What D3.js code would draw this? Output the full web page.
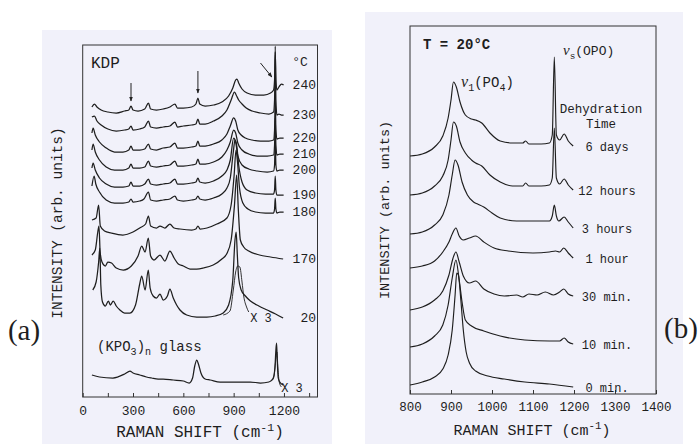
<!DOCTYPE html>
<html>
<head>
<meta charset="utf-8">
<script src="https://cdn.jsdelivr.net/npm/d3@7"></script>
<style>
  body { margin: 0; background: #fff; }
  svg { display: block; }
  text { font-family: "Liberation Mono", "DejaVu Sans Mono", monospace; fill: #1e1e1e; }
</style>
</head>
<body>
<svg width="700" height="444"></svg>
<script>
var svg = d3.select('svg');

// ---- panel (a): KDP spectra, [Raman shift, intensity] ----
var kdpTemps = ['240', '230', '220', '210', '200', '190', '180', '170', '20'];

var kdp240 = [[55,290],[70,293],[85,290],[110,287],[150,285],[200,284],[250,286],[275,287],[288,291],[300,287],[330,286],[370,288],[392,294],[405,288],[440,287],[480,288],[520,290],[550,293],[565,289],[600,289],[650,290],[675,293],[687,299],[698,293],[730,291],[780,292],[830,295],[870,301],[895,309],[912,317],[920,318],[930,314],[950,308],[980,304],[1030,302],[1080,302],[1120,304],[1138,307],[1144,317],[1148,345],[1152,317],[1158,307],[1170,310],[1185,313],[1198,312]];
var kdp230 = [[55,280],[70,281],[85,276],[110,272],[150,268],[200,266],[250,267],[275,268],[288,271],[300,267],[340,268],[370,270],[392,276],[405,270],[440,269],[480,270],[520,271],[550,275],[565,270],[600,271],[650,272],[675,273],[687,278],[698,273],[730,273],[780,276],[830,281],[860,287],[885,297],[905,305],[915,302],[930,297],[950,293],[975,289],[1010,286],[1060,284],[1110,283],[1138,285],[1144,297],[1148,351],[1152,297],[1158,282],[1170,283],[1185,282],[1198,282]];
var kdp220 = [[55,264],[62,269],[75,262],[100,255],[140,249],[190,245],[240,245],[275,247],[288,251],[300,247],[340,247],[370,248],[392,253],[405,248],[440,247],[480,249],[520,250],[550,254],[565,249],[600,249],[650,250],[675,251],[687,256],[698,251],[730,251],[780,253],[830,257],[860,263],[880,271],[900,279],[912,276],[925,267],[945,262],[970,259],[1010,257],[1060,256],[1110,256],[1138,257],[1144,267],[1148,299],[1152,267],[1158,258],[1175,259],[1198,259]];
var kdp210 = [[55,247],[62,253],[75,245],[100,237],[140,230],[190,227],[240,227],[275,229],[288,233],[300,229],[340,229],[370,230],[392,236],[405,231],[440,230],[480,231],[520,232],[550,236],[565,231],[600,231],[650,232],[675,233],[687,238],[698,233],[730,233],[780,235],[830,240],[860,247],[880,255],[900,267],[912,264],[925,254],[950,247],[990,243],[1040,241],[1100,241],[1138,242],[1144,252],[1148,279],[1152,252],[1158,242],[1175,243],[1198,243]];
var kdp200 = [[55,229],[62,234],[75,227],[100,219],[140,213],[190,210],[240,210],[275,211],[288,215],[300,211],[340,211],[370,213],[392,218],[405,213],[440,212],[480,213],[520,214],[550,218],[565,213],[600,213],[650,214],[675,215],[687,219],[698,215],[730,214],[780,216],[830,221],[860,227],[880,237],[900,259],[912,255],[925,241],[950,232],[990,228],[1040,226],[1100,225],[1138,226],[1144,232],[1148,257],[1152,232],[1158,226],[1175,227],[1198,227]];
var kdp190 = [[55,211],[68,221],[78,213],[100,205],[140,197],[190,194],[240,194],[275,195],[288,198],[300,195],[340,196],[365,198],[392,205],[405,197],[440,196],[480,197],[520,198],[550,201],[565,197],[600,196],[650,197],[675,198],[687,201],[698,198],[730,197],[780,199],[830,203],[860,209],[880,219],[898,245],[908,257],[918,252],[930,232],[950,215],[980,207],[1030,204],[1090,203],[1138,203],[1144,207],[1148,221],[1152,207],[1158,202],[1175,202],[1198,202]];
var kdp180 = [[55,177],[80,179],[95,192],[105,171],[130,166],[170,164],[240,162],[300,165],[340,169],[375,173],[392,181],[405,171],[440,169],[461,171],[490,169],[520,173],[545,169],[580,168],[650,167],[675,168],[687,171],[700,168],[741,169],[800,173],[860,179],[885,192],[903,222],[914,247],[922,237],[935,209],[955,194],[985,188],[1030,185],[1090,184],[1138,184],[1144,188],[1148,199],[1152,188],[1158,184],[1175,185],[1198,185]];
var kdp170 = [[55,142],[75,147],[90,165],[97,171],[104,145],[115,135],[135,131],[150,135],[172,134],[200,129],[242,127],[290,131],[330,141],[352,151],[372,145],[391,159],[405,141],[425,137],[461,142],[490,136],[520,146],[545,139],[570,133],[600,131],[640,128],[680,128],[720,129],[778,132],[830,138],[858,143],[885,157],[905,192],[918,222],[928,187],[940,157],[960,150],[990,146],[1054,142],[1120,140],[1195,138]];
var kdp20 = [[60,107],[80,115],[95,135],[102,149],[108,112],[118,95],[135,91],[153,96],[165,92],[182,96],[200,91],[222,87],[250,84],[282,84],[315,92],[340,113],[352,121],[372,107],[391,127],[402,109],[420,101],[440,99],[461,103],[480,97],[505,101],[520,108],[540,99],[560,92],[580,87],[620,82],[680,80],[740,80],[790,81],[838,84],[870,92],[895,117],[908,157],[915,165],[922,142],[930,119],[945,107],[970,101],[1000,96],[1050,91],[1100,87],[1150,83],[1195,79]];
var kdp20x3 = [[838,82],[878,86],[898,107],[912,125],[925,131],[937,130],[950,115],[960,101],[977,90],[990,85]];
var glass = [[55,22],[100,20],[180,19],[250,23],[282,26],[300,24],[340,22],[380,20],[411,19],[450,18],[480,18],[540,17],[600,16],[635,14],[655,19],[668,31],[680,37],[690,33],[705,24],[730,18],[760,17],[820,15],[900,15],[1000,15],[1060,14],[1110,15],[1135,18],[1146,29],[1152,47],[1156,54],[1160,37],[1166,19],[1175,15],[1195,12]];
var glassX3 = [[1120,16],[1140,21],[1150,35],[1158,45],[1164,29],[1172,15],[1185,10]];

var kdpSpectra = [kdp240, kdp230, kdp220, kdp210, kdp200, kdp190, kdp180, kdp170, kdp20];
var ticksA = [0, 150, 300, 450, 600, 750, 900, 1050, 1200, 1350];

// ---- panel (b): dehydration series at 20 C ----
var dehydTimes = ['6 days', '12 hours', '3 hours', '1 hour', '30 min.', '10 min.', '0 min.'];

var d6days = [[800,238],[830,240],[860,247],[880,258],[893,276],[900,294],[906,312],[913,307],[922,292],[935,279],[950,275],[960,274],[975,271],[995,261],[1020,253],[1050,251],[1075,251],[1082,253],[1090,250],[1120,250],[1140,251],[1147,259],[1152,337],[1157,259],[1165,254],[1176,260],[1186,253],[1198,248]];
var d12h = [[800,199],[830,201],[860,208],[880,218],[893,234],[900,254],[906,272],[913,268],[922,252],[935,241],[950,234],[960,231],[975,228],[995,219],[1020,212],[1050,208],[1075,208],[1082,211],[1090,208],[1120,208],[1140,209],[1147,216],[1152,266],[1157,216],[1165,210],[1176,215],[1186,209],[1198,204]];
var d3h = [[800,160],[830,162],[860,169],[880,179],[895,199],[903,219],[910,234],[917,229],[927,212],[940,199],[955,192],[965,190],[980,187],[1000,181],[1020,176],[1060,173],[1100,173],[1140,173],[1147,178],[1152,189],[1157,178],[1163,173],[1176,177],[1186,172],[1198,166]];
var d1h = [[800,126],[830,128],[860,133],[880,142],[895,152],[903,160],[912,166],[920,158],[930,154],[945,156],[960,158],[980,152],[1005,146],[1040,143],[1100,141],[1140,142],[1155,143],[1165,142],[1175,146],[1186,141],[1198,136]];
var d30m = [[800,84],[830,87],[860,94],[880,103],[895,119],[905,136],[912,142],[920,132],[930,118],[945,111],[960,113],[980,105],[1005,100],[1030,98],[1060,99],[1075,97],[1090,100],[1110,99],[1130,102],[1150,99],[1165,102],[1175,105],[1186,100],[1198,98]];
var d10m = [[800,47],[830,50],[860,58],[880,69],[893,89],[903,116],[912,134],[920,114],[928,89],[935,74],[950,68],[980,63],[1020,58],[1080,54],[1140,53],[1165,53],[1176,56],[1186,52],[1198,50]];
var d0m = [[800,9],[830,12],[860,17],[880,25],[893,39],[903,64],[910,99],[914,121],[918,119],[924,94],[930,64],[937,42],[945,31],[960,23],[990,18],[1030,15],[1080,12],[1140,10],[1198,7]];

var dehydSpectra = [d6days, d12h, d3h, d1h, d30m, d10m, d0m];
var ticksB = [800, 900, 1000, 1100, 1200, 1300, 1400];

// ---- backgrounds ----
svg.append('rect').attr('x', 42).attr('y', 30).attr('width', 290).attr('height', 414).attr('fill', '#f1f1fa');
svg.append('rect').attr('x', 365).attr('y', 12).attr('width', 318).attr('height', 432).attr('fill', '#f1f1fa');

// arrow head
svg.append('defs').append('marker')
  .attr('id', 'head').attr('viewBox', '0 0 10 10').attr('refX', 9).attr('refY', 5)
  .attr('markerWidth', 5).attr('markerHeight', 6).attr('orient', 'auto')
  .append('path').attr('d', 'M0,1 L10,5 L0,9 Z').attr('fill', '#222');

function superLabel(g, x, y, parts, size, anchor) {
  var t = g.append('text').attr('x', x).attr('y', y).attr('font-size', size).attr('text-anchor', anchor || 'start');
  parts.forEach(function(p) {
    var s = t.append('tspan').text(p[0]);
    if (p[1] === 'sub') s.attr('font-size', size * 0.72).attr('dy', size * 0.3);
    if (p[1] === 'sup') s.attr('font-size', size * 0.72).attr('dy', -size * 0.4);
    if (p[1] === 'back') s.attr('dy', p[2]);
    if (p[1] === 'it') s.style('font-style', 'italic').style('font-family', '"Liberation Serif", serif').attr('font-size', size * 1.15);
  });
  return t;
}

// ================= panel (a) =================
var xA = d3.scaleLinear().domain([0, 1400]).range([82.7, 317.5]);
var yA = d3.scaleLinear().domain([0, 352]).range([397, 45]);
var lineA = d3.line().x(d => xA(d[0])).y(d => yA(d[1])).curve(d3.curveMonotoneX);

var gA = svg.append('g');

gA.append('g')
  .attr('transform', 'translate(0,397)')
  .call(d3.axisBottom(xA).tickValues(ticksA).tickSizeInner(-4).tickSizeOuter(0).tickPadding(9)
    .tickFormat(d => d % 300 === 0 && d <= 1200 ? d : ''))
  .call(g => g.select('.domain').remove())
  .call(g => g.selectAll('line').attr('stroke', '#333'))
  .call(g => g.selectAll('text').attr('font-size', 13).attr('fill', '#1e1e1e'));

gA.append('rect').attr('x', xA(0)).attr('y', yA(352)).attr('width', xA(1400) - xA(0)).attr('height', yA(0) - yA(352))
  .attr('fill', 'none').attr('stroke', '#333').attr('stroke-width', 1);

kdpSpectra.concat([kdp20x3, glass, glassX3]).forEach(function(s) {
  gA.append('path').datum(s).attr('d', lineA)
    .attr('fill', 'none').attr('stroke', '#1e1e1e')
    .attr('stroke-width', (s === kdp20x3 || s === glassX3) ? 0.9 : 1.25);
});

kdpSpectra.forEach(function(s, i) {
  var last = s[s.length - 1];
  gA.append('text').attr('x', 316).attr('y', yA(last[1]) + 4)
    .attr('text-anchor', 'end').attr('font-size', 13).text(kdpTemps[i]);
});

gA.append('text').attr('x', 91).attr('y', 68).attr('font-size', 16).text('KDP');
gA.append('text').attr('x', 300).attr('y', 66).attr('text-anchor', 'middle').attr('font-size', 13).text('°C');
gA.append('text').attr('x', 261).attr('y', 322).attr('text-anchor', 'middle').attr('font-size', 12).text('X 3');
gA.append('text').attr('x', 292).attr('y', 392).attr('text-anchor', 'middle').attr('font-size', 12).text('X 3');
superLabel(gA, 97, 351, [['(KPO'], ['3', 'sub'], [')', 'back', -14 * 0.3], ['n', 'sub'], [' glass', 'back', -14 * 0.3]], 14);

// arrows
[[288, 314, 288, 296], [687, 326, 687, 304], [1060, 334, 1128, 320]].forEach(function(a) {
  gA.append('line').attr('x1', xA(a[0])).attr('y1', yA(a[1])).attr('x2', xA(a[2])).attr('y2', yA(a[3]))
    .attr('stroke', '#222').attr('stroke-width', 1).attr('marker-end', 'url(#head)');
});

superLabel(gA, 200, 437, [['RAMAN SHIFT (cm'], ['-1', 'sup'], [')', 'back', 16 * 0.4]], 16, 'middle');
gA.append('text').attr('transform', 'translate(62,223) rotate(-90)').attr('text-anchor', 'middle')
  .attr('font-size', 14.5).text('INTENSITY (arb. units)');

svg.append('text').attr('x', 24).attr('y', 340).attr('text-anchor', 'middle')
  .style('font-family', '"Liberation Serif", serif').attr('font-size', 29).text('(a)');

// ================= panel (b) =================
var xB = d3.scaleLinear().domain([800, 1400]).range([410, 656]);
var yB = d3.scaleLinear().domain([0, 368]).range([394, 26]);
var lineB = d3.line().x(d => xB(d[0])).y(d => yB(d[1])).curve(d3.curveMonotoneX);

var gB = svg.append('g');

gB.append('g')
  .attr('transform', 'translate(0,394)')
  .call(d3.axisBottom(xB).tickValues(ticksB).tickSizeInner(-4).tickSizeOuter(0).tickPadding(8)
    .tickFormat(d3.format('d')))
  .call(g => g.select('.domain').remove())
  .call(g => g.selectAll('line').attr('stroke', '#333'))
  .call(g => g.selectAll('text').attr('font-size', 12.5).attr('fill', '#1e1e1e'));

gB.append('rect').attr('x', xB(800)).attr('y', yB(368)).attr('width', xB(1400) - xB(800)).attr('height', yB(0) - yB(368))
  .attr('fill', 'none').attr('stroke', '#333').attr('stroke-width', 1);

dehydSpectra.forEach(function(s, i) {
  gB.append('path').datum(s).attr('d', lineB)
    .attr('fill', 'none').attr('stroke', '#1e1e1e').attr('stroke-width', 1.15);
  var last = s[s.length - 1];
  gB.append('text').attr('x', 607).attr('y', yB(last[1]) + 5)
    .attr('text-anchor', 'middle').attr('font-size', 12).text(dehydTimes[i]);
});

gB.append('text').attr('x', 601).attr('y', 113).attr('text-anchor', 'middle').attr('font-size', 12.5).text('Dehydration');
gB.append('text').attr('x', 601).attr('y', 128).attr('text-anchor', 'middle').attr('font-size', 12.5).text('Time');
gB.append('text').attr('x', 423).attr('y', 49).attr('font-size', 14).attr('font-weight', 'bold').text('T = 20°C');
superLabel(gB, 461, 87, [['ν', 'it'], ['1', 'sub'], ['(PO', 'back', -14 * 0.3], ['4', 'sub'], [')', 'back', -14 * 0.3]], 14);
superLabel(gB, 563, 55, [['ν', 'it'], ['s', 'sub'], ['(OPO)', 'back', -13 * 0.3]], 13);

superLabel(gB, 532, 435, [['RAMAN SHIFT (cm'], ['-1', 'sup'], [')', 'back', 15 * 0.4]], 15, 'middle');
gB.append('text').attr('transform', 'translate(389,210) rotate(-90)').attr('text-anchor', 'middle')
  .attr('font-size', 13.5).text('INTENSITY (arb. units)');

svg.append('text').attr('x', 681).attr('y', 338).attr('text-anchor', 'middle')
  .style('font-family', '"Liberation Serif", serif').attr('font-size', 29).text('(b)');
</script>
</body>
</html>
